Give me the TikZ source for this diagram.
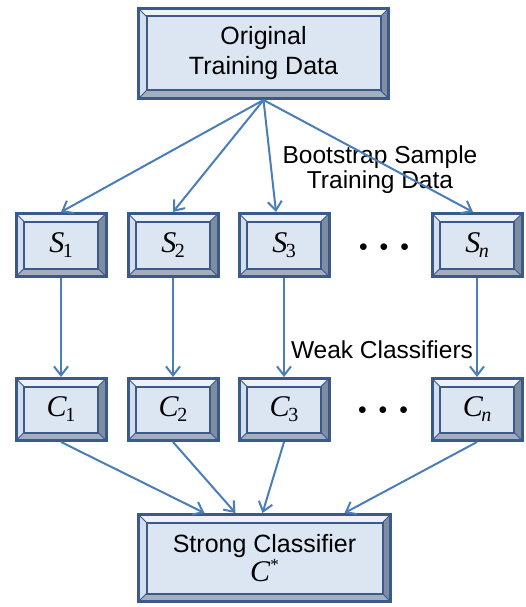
\documentclass[tikz,border=0pt]{standalone}
\usepackage{fontspec}
\setmainfont{Liberation Sans}
\newfontfamily\tms{Liberation Serif}
\usetikzlibrary{calc,arrows.meta}
\definecolor{bdr}{HTML}{3B5A8C}
\definecolor{innerc}{HTML}{DCE6F2}
\definecolor{bevtop}{HTML}{EEF2F8}
\definecolor{bevleft}{HTML}{D4DEEC}
\definecolor{bevright}{HTML}{7F8DA3}
\definecolor{bevbot}{HTML}{A4AEBF}
\definecolor{arr}{HTML}{4A7EBB}
\newcommand\sv[2]{{\tms\fontsize{30}{30}\selectfont\itshape #1}\kern-1.5pt\raisebox{-5pt}{\tms\fontsize{20}{20}\selectfont #2}}
\tikzset{
  bevbox/.style={draw=bdr, line width=3pt, fill=bevbot, outer sep=1.5pt, inner sep=0pt,
    font=\fontsize{25}{30}\selectfont, align=center,
    path picture={
      \path (path picture bounding box.north west) coordinate (pNW)
            (path picture bounding box.north east) coordinate (pNE)
            (path picture bounding box.south east) coordinate (pSE)
            (path picture bounding box.south west) coordinate (pSW);
      \coordinate (iNW) at ($(pNW)+(8,8)$);
      \coordinate (iNE) at ($(pNE)+(-8,8)$);
      \coordinate (iSE) at ($(pSE)+(-8,-8)$);
      \coordinate (iSW) at ($(pSW)+(8,-8)$);
      \fill[bevtop] (pNW) -- (pNE) -- (iNE) -- (iNW) -- cycle;
      \fill[bevleft] (pNW) -- (iNW) -- (iSW) -- (pSW) -- cycle;
      \fill[bevright] (pNE) -- (pSE) -- (iSE) -- (iNE) -- cycle;
      \fill[bevbot] (pSW) -- (iSW) -- (iSE) -- (pSE) -- cycle;
      \draw[bdr, line width=0.8pt] (pNW) -- (iNW) (pNE) -- (iNE) (pSE) -- (iSE) (pSW) -- (iSW);
      \draw[fill=innerc, draw=bdr, line width=2pt] (iNW) rectangle (iSE);
    }},
  smallbox/.style={bevbox, minimum width=90pt, minimum height=63pt},
  conn/.style={draw=arr, line width=2pt, -{Straight Barb[length=9pt,width=14pt,line width=2pt]}},
  lbl/.style={font=\fontsize{24.5}{25}\selectfont, align=center, inner sep=0pt},
  dotsn/.style={font=\fontsize{17}{17}\selectfont, inner sep=0pt}
}
\begin{document}
\begin{tikzpicture}[x=1pt, y=-1pt]
\useasboundingbox (0,0) rectangle (526,607);
\node[bevbox, minimum width=250pt, minimum height=90pt] (T) at (263.5,53.5) {Original\\Training Data};
\node[smallbox] (S1) at (61,245) {\sv{S}{1}};
\node[smallbox] (S2) at (173,245) {\sv{S}{2}};
\node[smallbox] (S3) at (284,245) {\sv{S}{3}};
\node[smallbox] (Sn) at (477,245) {\sv{S}{\itshape n}};
\node[smallbox, minimum height=62pt] (C1) at (61,409.5) {\sv{C}{1}};
\node[smallbox, minimum height=62pt] (C2) at (173,409.5) {\sv{C}{2}};
\node[smallbox, minimum height=62pt] (C3) at (284,409.5) {\sv{C}{3}};
\node[smallbox, minimum height=62pt] (Cn) at (477,409.5) {\sv{C}{\itshape n}};
\node[bevbox, minimum width=252pt, minimum height=87pt, font=\fontsize{25}{25}\selectfont] (B) at (264.5,558)
  {Strong Classifier\\{\tms\fontsize{30}{30}\selectfont\itshape C}\raisebox{11pt}{\tms\fontsize{17}{17}\selectfont *}};
\node[dotsn] (d1) at (384,248) {$\bullet$\hspace{12pt}$\bullet$\hspace{12pt}$\bullet$};
\node[dotsn] (d2) at (383,411) {$\bullet$\hspace{12pt}$\bullet$\hspace{12pt}$\bullet$};
\node[lbl] (L1) at (380,170) {Bootstrap Sample\\Training Data};
\node[lbl] (L2) at (382,350) {Weak Classifiers};
\coordinate (o) at (T.south);
\draw[conn] (o) -- (S1.north);
\draw[conn] (o) -- (S2.north);
\draw[conn] (o) -- ($(S3.north)+(-8,0)$);
\draw[conn] (o) -- ($(Sn.north)+(-4,0)$);
\draw[conn] (S1) -- (C1);
\draw[conn] (S2) -- (C2);
\draw[conn] (S3) -- (C3);
\draw[conn] (Sn) -- (Cn);
\draw[conn] (C1.south) -- ($(B.north)+(-60,0)$);
\draw[conn] (C2.south) -- ($(B.north)+(-29,0)$);
\draw[conn] (C3.south) -- ($(B.north)+(-2,0)$);
\draw[conn] (Cn.south) -- ($(B.north)+(80,0)$);
\end{tikzpicture}
\end{document}
